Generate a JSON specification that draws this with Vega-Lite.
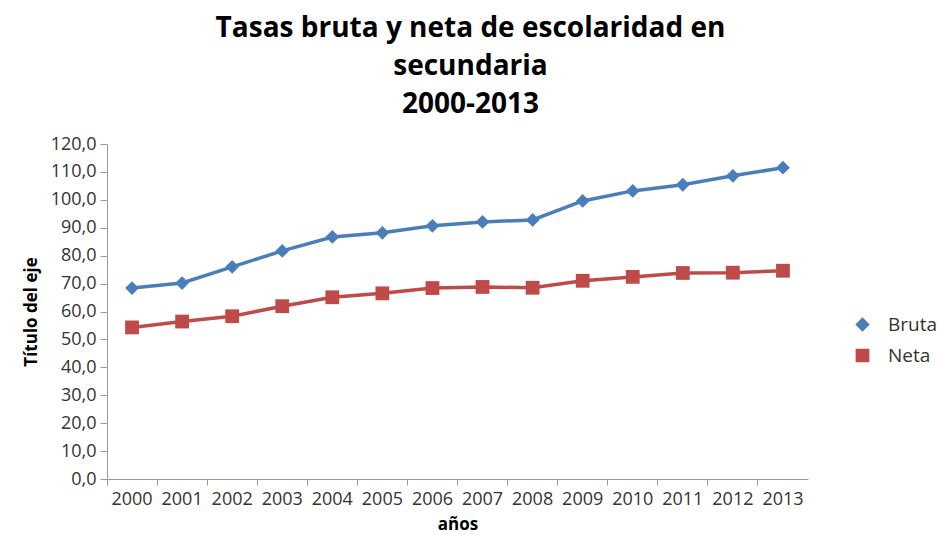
{
  "$schema": "https://vega.github.io/schema/vega-lite/v6.json",
  "width": 701,
  "height": 335,
  "autosize": "none",
  "padding": {"left": 107, "top": 144, "right": 130, "bottom": 56},
  "background": "white",
  "config": {"view": {"stroke": null}, "font": "Open Sans"},
  "title": {
    "text": ["Tasas bruta y neta de escolaridad en", "secundaria", "2000-2013"],
    "fontSize": 28,
    "fontWeight": "bold",
    "font": "Open Sans",
    "color": "#000000",
    "lineHeight": 38,
    "anchor": "middle",
    "dx": 13,
    "offset": 16
  },
  "data": {
    "values": [
      {"year": "2000", "serie": "Bruta", "valor": 68.4},
      {"year": "2001", "serie": "Bruta", "valor": 70.2},
      {"year": "2002", "serie": "Bruta", "valor": 76.0},
      {"year": "2003", "serie": "Bruta", "valor": 81.7},
      {"year": "2004", "serie": "Bruta", "valor": 86.7},
      {"year": "2005", "serie": "Bruta", "valor": 88.2},
      {"year": "2006", "serie": "Bruta", "valor": 90.7},
      {"year": "2007", "serie": "Bruta", "valor": 92.1},
      {"year": "2008", "serie": "Bruta", "valor": 92.8},
      {"year": "2009", "serie": "Bruta", "valor": 99.6},
      {"year": "2010", "serie": "Bruta", "valor": 103.2},
      {"year": "2011", "serie": "Bruta", "valor": 105.4},
      {"year": "2012", "serie": "Bruta", "valor": 108.6},
      {"year": "2013", "serie": "Bruta", "valor": 111.5},
      {"year": "2000", "serie": "Neta", "valor": 54.3},
      {"year": "2001", "serie": "Neta", "valor": 56.4},
      {"year": "2002", "serie": "Neta", "valor": 58.3},
      {"year": "2003", "serie": "Neta", "valor": 61.9},
      {"year": "2004", "serie": "Neta", "valor": 65.1},
      {"year": "2005", "serie": "Neta", "valor": 66.5},
      {"year": "2006", "serie": "Neta", "valor": 68.4},
      {"year": "2007", "serie": "Neta", "valor": 68.8},
      {"year": "2008", "serie": "Neta", "valor": 68.5},
      {"year": "2009", "serie": "Neta", "valor": 71.0},
      {"year": "2010", "serie": "Neta", "valor": 72.4},
      {"year": "2011", "serie": "Neta", "valor": 73.8},
      {"year": "2012", "serie": "Neta", "valor": 73.9},
      {"year": "2013", "serie": "Neta", "valor": 74.6}
    ]
  },
  "encoding": {
    "x": {
      "field": "year",
      "type": "nominal",
      "scale": {"type": "band", "paddingInner": 0, "paddingOuter": 0},
      "axis": {
        "title": "años",
        "titleFontSize": 17,
        "titleFontWeight": "bold",
        "titleColor": "#000000",
        "titlePadding": 8,
        "labelAngle": 0,
        "labelFontSize": 18,
        "labelColor": "#333333",
        "labelPadding": 5,
        "bandPosition": 0,
        "tickSize": 6,
        "tickColor": "#9a9a9a",
        "domainColor": "#9a9a9a",
        "grid": false
      }
    },
    "y": {
      "field": "valor",
      "type": "quantitative",
      "scale": {"domain": [0, 120], "nice": false},
      "axis": {
        "title": "Título del eje",
        "titleFontSize": 17,
        "titleFontWeight": "bold",
        "titleColor": "#000000",
        "titlePadding": 10,
        "values": [0, 10, 20, 30, 40, 50, 60, 70, 80, 90, 100, 110, 120],
        "labelExpr": "replace(format(datum.value, '.1f'), '.', ',')",
        "labelFontSize": 18,
        "labelColor": "#333333",
        "labelPadding": 4,
        "tickSize": 7,
        "tickColor": "#9a9a9a",
        "domainColor": "#9a9a9a",
        "grid": false
      }
    },
    "color": {
      "field": "serie",
      "type": "nominal",
      "scale": {"domain": ["Bruta", "Neta"], "range": ["#4a7ebb", "#be4b48"]},
      "legend": {
        "title": null,
        "orient": "none",
        "legendX": 746,
        "legendY": 171,
        "labelFontSize": 19,
        "labelColor": "#333333",
        "symbolSize": 150,
        "rowPadding": 11,
        "labelOffset": 16
      }
    },
    "shape": {
      "field": "serie",
      "type": "nominal",
      "scale": {"domain": ["Bruta", "Neta"], "range": ["diamond", "square"]},
      "legend": null
    }
  },
  "layer": [
    {"mark": {"type": "line", "strokeWidth": 3.5}},
    {"mark": {"type": "point", "filled": true, "opacity": 1, "size": 190}}
  ]
}
